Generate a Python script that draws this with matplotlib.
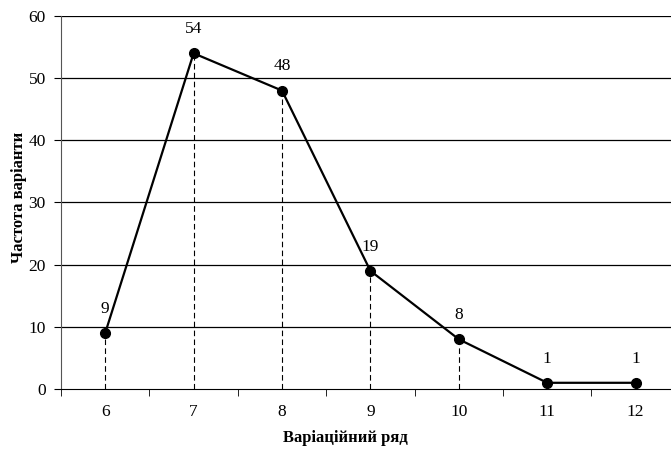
import numpy as np
import matplotlib.pyplot as plt

plt.rcParams['font.family'] = ['Liberation Serif', 'DejaVu Serif']

variants = [6, 7, 8, 9, 10, 11, 12]
freqs = [9, 54, 48, 19, 8, 1, 1]

fig = plt.figure(figsize=(6.71, 4.49), dpi=100)
ax = fig.add_axes([0.0909, 0.1336, 0.9091, 0.8308])

x = np.arange(len(variants))
for yv in range(10, 61, 10):
    ax.axhline(yv, color='black', lw=0.9, zorder=1)
ax.vlines(x, 0, freqs, colors='black', linestyles=(0, (5, 3)), lw=0.8, zorder=2)
ax.plot(x, freqs, color='black', lw=1.6, marker='o', markersize=7, zorder=3)
for xi, f in zip(x, freqs):
    ax.text(xi, f + 2.6, str(f), ha='center', va='bottom', fontsize=12.5)

ax.set_xlim(-0.5, len(variants) - 0.6)
ax.set_ylim(0, 60)
ax.set_yticks(range(0, 61, 10))
ax.set_xticks(x)
ax.set_xticklabels([str(v) for v in variants], fontsize=12.5)
ax.set_xticks(np.arange(-0.5, len(variants) - 0.5, 1), minor=True)
ax.tick_params(axis='x', which='major', length=0, pad=11)
ax.tick_params(axis='x', which='minor', length=5, color='black')
ax.tick_params(axis='y', length=5, pad=6, labelsize=12.5, color='black')
for s in ['top', 'right']:
    ax.spines[s].set_visible(False)
ax.spines['left'].set_color('#555555')
ax.spines['bottom'].set_color('black')

ax.set_xlabel('Варіаційний ряд', fontsize=12, fontweight='bold')
ax.set_ylabel('Частота варіанти', fontsize=12, fontweight='bold')
ax.xaxis.set_label_coords(0.467, -0.11)
ax.yaxis.set_label_coords(-0.055, 0.515)

fig.savefig('out.png', dpi=100)
